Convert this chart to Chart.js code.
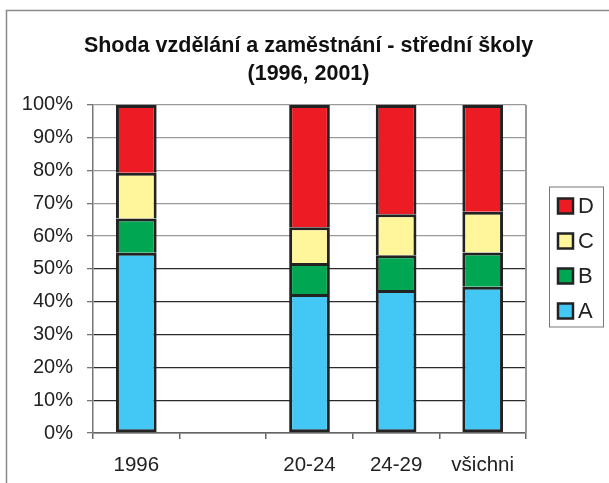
<!DOCTYPE html>
<html>
<head>
<meta charset="utf-8">
<script src="https://cdn.jsdelivr.net/npm/chart.js@4/dist/chart.umd.min.js"></script>
<style>
html,body{margin:0;padding:0;background:#fff;}
#wrap{width:609px;height:483px;position:relative;}
</style>
</head>
<body>
<div id="wrap"><canvas id="c" width="609" height="483"></canvas></div>
<script>
const titleLines = ['Shoda vzdělání a zaměstnání - střední školy', '(1996, 2001)'];
const categories = ['1996', '', '20-24', '24-29', 'všichni'];
const seriesNames = ['A', 'B', 'C', 'D'];
const seriesA = [54.9, null, 42.4, 43.6, 44.6];
const seriesB = [10.5, null, 9.4, 10.6, 10.4];
const seriesC = [13.9, null, 10.9, 12.5, 12.4];
const seriesD = [20.7, null, 37.3, 33.3, 32.6];
const yTickValues = [0, 10, 20, 30, 40, 50, 60, 70, 80, 90, 100];

const colors = ['#43C8F5', '#00A651', '#FFF59A', '#ED1C24'];
const FONT = '"Liberation Sans", Arial, Helvetica, sans-serif';

const decor = {
  id: 'decor',
  afterDraw(chart) {
    const ctx = chart.ctx;
    const a = chart.chartArea;
    ctx.save();
    // outer frame (top and left)
    ctx.strokeStyle = '#8a8a8a';
    ctx.lineWidth = 1.5;
    ctx.beginPath();
    ctx.moveTo(6.5, 483);
    ctx.lineTo(6.5, 10.5);
    ctx.lineTo(609, 10.5);
    ctx.stroke();
    // right border of plot
    ctx.strokeStyle = '#999';
    ctx.lineWidth = 2;
    ctx.beginPath();
    ctx.moveTo(a.right, a.top);
    ctx.lineTo(a.right, a.bottom);
    ctx.stroke();
    // legend
    const lx = 549.5, ly = 187, lw = 54, lh = 140;
    ctx.strokeStyle = '#777';
    ctx.lineWidth = 1;
    ctx.strokeRect(lx, ly, lw, lh);
    const ds = chart.data.datasets;
    ctx.font = '22px ' + FONT;
    ctx.textBaseline = 'middle';
    ctx.textAlign = 'left';
    for (let i = 0; i < ds.length; i++) {
      const d = ds[ds.length - 1 - i];
      const cy = 205.5 + i * 35;
      ctx.fillStyle = d.backgroundColor;
      ctx.fillRect(558, cy - 7, 15, 15);
      ctx.strokeStyle = '#222';
      ctx.lineWidth = 2.5;
      ctx.strokeRect(558, cy - 7, 15, 15);
      ctx.fillStyle = '#222';
      ctx.fillText(d.label, 578, cy + 1.5);
    }
    ctx.restore();
  }
};

const seriesData = [seriesA, seriesB, seriesC, seriesD];
const datasets = seriesNames.map((n, i) => ({
  label: n,
  data: seriesData[i],
  backgroundColor: colors[i],
  borderColor: '#222',
  borderWidth: 3,
  borderSkipped: i === 0 ? false : 'start',
  categoryPercentage: 1.0,
  barPercentage: 0.47
}));

new Chart(document.getElementById('c'), {
  type: 'bar',
  data: { labels: categories, datasets: datasets },
  options: {
    responsive: false,
    animation: false,
    layout: { padding: { top: 0, left: 8, right: 0, bottom: 0 } },
    plugins: {
      legend: { display: false },
      tooltip: { enabled: false },
      title: {
        display: true,
        text: titleLines,
        color: '#111',
        font: { family: FONT, size: 21.5, weight: 'bold', lineHeight: 1.3 },
        padding: { top: 32, bottom: 17 }
      }
    },
    scales: {
      x: {
        stacked: true,
        grid: { drawOnChartArea: false, drawTicks: true, tickLength: 6, offset: true, color: '#666', lineWidth: 1.5 },
        border: { display: true, color: '#666', width: 1.5 },
        ticks: { color: '#222', font: { family: FONT, size: 20.5 }, padding: 14, autoSkip: false, maxRotation: 0 },
        afterFit(s) { s.height = 50; }
      },
      y: {
        stacked: true,
        min: 0,
        max: 100,
        afterBuildTicks(s) { s.ticks = yTickValues.map(v => ({ value: v })); },
        grid: {
          color: c => (c.tick && c.tick.value > 50 ? '#9a9a9a' : '#2a2a2a'),
          tickColor: '#777',
          lineWidth: 1.3,
          tickLength: 6
        },
        border: { display: true, color: '#777', width: 1.5 },
        ticks: { color: '#222', font: { family: FONT, size: 20 }, padding: 14, callback: v => v + '%' },
        afterFit(s) { s.width = 85; }
      },
      yRight: {
        position: 'right',
        display: true,
        grid: { display: false },
        border: { display: false },
        ticks: { display: false },
        afterFit(s) { s.width = 83; }
      }
    }
  },
  plugins: [decor]
});
</script>
</body>
</html>
